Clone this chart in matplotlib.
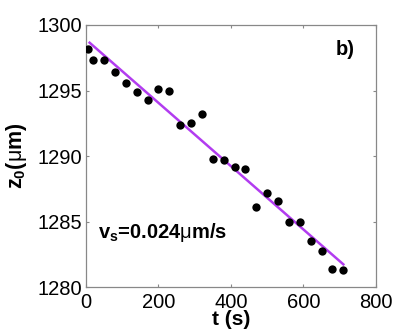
import matplotlib
matplotlib.use("Agg")
import matplotlib.pyplot as plt

t_data = [5, 20, 50, 80, 110, 140, 170, 200, 230, 260, 290, 320, 350, 380,
          410, 440, 470, 500, 530, 560, 590, 620, 650, 680, 710]
z_data = [1298.2, 1297.3, 1297.3, 1296.4, 1295.6, 1294.9, 1294.3, 1295.1, 1295.0,
          1292.4, 1292.5, 1293.2, 1289.8, 1289.7, 1289.2, 1289.0, 1286.1, 1287.2,
          1286.6, 1285.0, 1285.0, 1283.5, 1282.8, 1281.4, 1281.3]
fit_t = [10, 710]
fit_z = [1298.65, 1281.75]
x_ticks = [0, 200, 400, 600, 800]
y_ticks = [1280, 1285, 1290, 1295, 1300]

plt.rcParams['font.family'] = ['Liberation Sans', 'DejaVu Sans']
plt.rcParams['mathtext.fontset'] = 'custom'
plt.rcParams['mathtext.rm'] = 'Liberation Sans'
plt.rcParams['mathtext.it'] = 'Liberation Sans'
plt.rcParams['mathtext.bf'] = 'Liberation Sans:bold'

fig = plt.figure(figsize=(4.15, 3.32), dpi=100)
ax = fig.add_axes([0.2072, 0.1346, 0.6988, 0.7901])

ax.plot(fit_t, fit_z, color='#b23cf0', lw=1.8, zorder=2)
ax.plot(t_data, z_data, 'o', color='black', ms=6, mew=0, zorder=3)

ax.set_xlim(0, 800)
ax.set_ylim(1280, 1300)
ax.set_xticks(x_ticks)
ax.set_yticks(y_ticks)
ax.tick_params(direction='in', length=2.5, width=0.8, color='#888888',
               labelsize=14.5, top=True, right=True)
ax.tick_params(axis='x', pad=4)
ax.tick_params(axis='y', pad=3)
for s in ax.spines.values():
    s.set_color('#888888')
    s.set_linewidth(0.9)

ax.set_xlabel('t (s)', fontsize=15, fontweight='bold', labelpad=-1)
ax.set_ylabel(r'z$_{\mathbf{0}}$($\mu$m)', fontsize=15.5, fontweight='bold', labelpad=6)

ax.text(0.893, 0.906, 'b)', transform=ax.transAxes, fontsize=14.5, fontweight='bold',
        ha='center', va='center')
ax.text(0.041, 0.188, r'v$_{\mathbf{s}}$=0.024$\mu$m/s', transform=ax.transAxes,
        fontsize=14.5, fontweight='bold', ha='left', va='baseline')

fig.savefig('out.png', dpi=100)
